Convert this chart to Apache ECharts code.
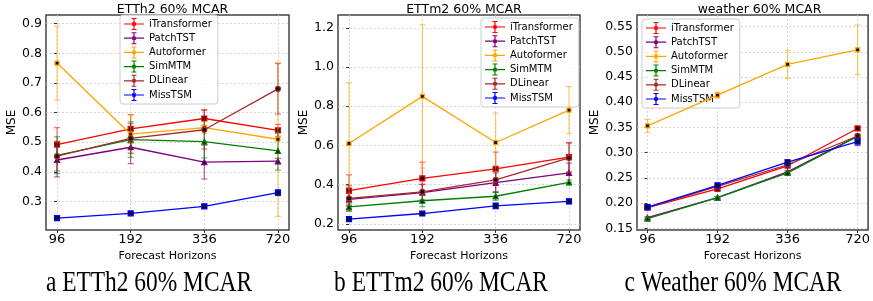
<!DOCTYPE html>
<html>
<head>
<meta charset="utf-8">
<script src="https://cdn.jsdelivr.net/npm/echarts@6/dist/echarts.min.js"></script>
<style>
  html, body { margin: 0; padding: 0; background: #fff; }
  #chart { width: 873px; height: 301px; }
</style>
</head>
<body>
<div id="chart"></div>
<script>
// categories
const horizons = ['96', '192', '336', '720']
const models = ['iTransformer', 'PatchTST', 'Autoformer', 'SimMTM', 'DLinear', 'MissTSM']
const colors = ['#ff0000', '#800080', '#ffa500', '#008000', '#a52a2a', '#0000ff']
const symbols = ['rect', 'triangle', 'rect', 'triangle', 'circle', 'rect']

// ETTh2 60% MCAR (mean, std) one row per model
const etth2Mse = [
  [0.492, 0.545, 0.580, 0.540],
  [0.440, 0.483, 0.433, 0.436],
  [0.767, 0.527, 0.549, 0.510],
  [0.456, 0.509, 0.502, 0.471],
  [0.453, 0.513, 0.542, 0.680],
  [0.244, 0.260, 0.284, 0.330]
]
const etth2Std = [
  [0.057, 0.048, 0.030, 0.020],
  [0.057, 0.055, 0.057, 0.010],
  [0.125, 0.065, 0.020, 0.260],
  [0.062, 0.060, 0.055, 0.065],
  [0.050, 0.050, 0.065, 0.085],
  [0.003, 0.003, 0.006, 0.010]
]

// ETTm2 60% MCAR
const ettm2Mse = [
  [0.370, 0.432, 0.481, 0.540],
  [0.325, 0.360, 0.410, 0.460],
  [0.610, 0.850, 0.615, 0.780],
  [0.287, 0.318, 0.341, 0.412],
  [0.330, 0.363, 0.425, 0.537],
  [0.224, 0.253, 0.292, 0.315]
]
const ettm2Std = [
  [0.080, 0.083, 0.085, 0.075],
  [0.030, 0.040, 0.050, 0.050],
  [0.310, 0.365, 0.150, 0.120],
  [0.020, 0.030, 0.020, 0.012],
  [0.065, 0.040, 0.060, 0.075],
  [0.005, 0.008, 0.015, 0.012]
]

// weather 60% MCAR
const weatherMse = [
  [0.191, 0.228, 0.274, 0.348],
  [0.171, 0.211, 0.262, 0.333],
  [0.353, 0.414, 0.475, 0.504],
  [0.169, 0.211, 0.260, 0.332],
  [0.191, 0.233, 0.276, 0.333],
  [0.192, 0.235, 0.281, 0.322]
]
const weatherStd = [
  [0.003, 0.003, 0.003, 0.003],
  [0.002, 0.002, 0.002, 0.002],
  [0.013, 0.006, 0.028, 0.049],
  [0.002, 0.002, 0.003, 0.003],
  [0.002, 0.003, 0.004, 0.004],
  [0.002, 0.005, 0.005, 0.008]
]

// y ticks per panel
const etth2Ticks = [0.3, 0.4, 0.5, 0.6, 0.7, 0.8, 0.9]
const ettm2Ticks = [0.2, 0.4, 0.6, 0.8, 1.0, 1.2]
const weatherTicks = [0.15, 0.2, 0.25, 0.3, 0.35, 0.4, 0.45, 0.5, 0.55]

const panels = [
  { title: 'ETTh2 60% MCAR', caption: 'a ETTh2 60% MCAR', mse: etth2Mse, std: etth2Std, ticks: etth2Ticks,
    ymin: 0.204, ymax: 0.929, digits: 1, left: 46, width: 243, capX: 149, legend: { left: 120, top: 15 } },
  { title: 'ETTm2 60% MCAR', caption: 'b ETTm2 60% MCAR', mse: ettm2Mse, std: ettm2Std, ticks: ettm2Ticks,
    ymin: 0.169, ymax: 1.265, digits: 1, left: 338, width: 242, capX: 441, legend: { left: 481, top: 18 } },
  { title: 'weather 60% MCAR', caption: 'c Weather 60% MCAR', mse: weatherMse, std: weatherStd, ticks: weatherTicks,
    ymin: 0.1466, ymax: 0.573, digits: 2, left: 637, width: 235, capX: 733, legend: { left: 642, top: 19 } }
]

const FONT = 'DejaVu Sans'
// errorbar-like legend glyph
const legendIcon = 'path://M0 5.4H20V6.6H0Z M9.4 0H10.6V12H9.4Z M7.5 0H12.5V1H7.5Z M7.5 11H12.5V12H7.5Z M8.2 4.2H11.8V7.8H8.2Z'

function renderErr(params, api) {
  const x = api.value(0)
  const lo = api.coord([x, api.value(1)])
  const hi = api.coord([x, api.value(2)])
  const cap = 3
  const style = { stroke: api.visual('color'), lineWidth: 1.2, opacity: 0.6 }
  return {
    type: 'group',
    children: [
      { type: 'line', shape: { x1: lo[0], y1: lo[1], x2: hi[0], y2: hi[1] }, style },
      { type: 'line', shape: { x1: lo[0] - cap, y1: lo[1], x2: lo[0] + cap, y2: lo[1] }, style },
      { type: 'line', shape: { x1: hi[0] - cap, y1: hi[1], x2: hi[0] + cap, y2: hi[1] }, style }
    ]
  }
}

const grid = [], xAxis = [], yAxis = [], series = [], title = [], legend = [], graphic = []

panels.forEach((p, k) => {
  grid.push({
    left: p.left, top: 15, width: p.width, height: 215,
    show: true, borderColor: '#444', borderWidth: 1.5, backgroundColor: 'transparent'
  })
  xAxis.push({
    gridIndex: k, type: 'value', min: -0.15, max: 3.15,
    name: 'Forecast Horizons', nameLocation: 'middle', nameGap: 16,
    nameTextStyle: { fontFamily: FONT, fontSize: 11, color: '#000' },
    axisLine: { show: false },
    axisTick: { show: true, length: 3, customValues: [0, 1, 2, 3], lineStyle: { color: '#333' } },
    axisLabel: {
      customValues: [0, 1, 2, 3], margin: 3,
      fontFamily: FONT, fontSize: 13, color: '#000',
      formatter: (v) => horizons[Math.round(v)]
    },
    splitLine: { show: true, lineStyle: { color: '#ccc', width: 0.8, type: [2, 2] } }
  })
  yAxis.push({
    gridIndex: k, type: 'value', min: p.ymin, max: p.ymax,
    name: 'MSE', nameLocation: 'middle', nameGap: k === 2 ? 31 : 26, nameRotate: 90,
    nameTextStyle: { fontFamily: FONT, fontSize: 12, color: '#000' },
    axisLine: { show: false },
    axisTick: { show: true, length: 3, customValues: p.ticks, lineStyle: { color: '#333' } },
    axisLabel: {
      customValues: p.ticks, margin: 4,
      fontFamily: FONT, fontSize: 12.5, color: '#000',
      formatter: (v) => v.toFixed(p.digits)
    },
    splitLine: { show: true, lineStyle: { color: '#ccc', width: 0.8, type: [2, 2] } }
  })
  title.push({
    text: p.title, left: p.left + p.width / 2, top: -2, textAlign: 'center',
    textStyle: { fontFamily: FONT, fontSize: 12.5, fontWeight: 'normal', color: '#000' }
  })
  legend.push({
    orient: 'vertical', left: p.legend.left, top: p.legend.top,
    itemWidth: 20, itemHeight: 12, itemGap: 2.2, padding: [3, 6, 3, 4],
    backgroundColor: 'rgba(255,255,255,0.85)', borderColor: '#ccc', borderWidth: 1, borderRadius: 3,
    textStyle: { fontFamily: FONT, fontSize: 10, color: '#000' },
    data: models.map((m, i) => ({
      name: m, icon: legendIcon,
      itemStyle: { color: colors[i], borderWidth: 0 },
      lineStyle: { width: 0 }
    }))
  })
  models.forEach((m, i) => {
    const mean = p.mse[i]
    const sd = p.std[i]
    series.push({
      name: m + ' err', type: 'custom', xAxisIndex: k, yAxisIndex: k,
      itemStyle: { color: colors[i] },
      renderItem: renderErr,
      encode: { x: 0, y: [1, 2] },
      data: mean.map((v, j) => [j, v - sd[j], v + sd[j]]),
      z: 2 + i
    })
    series.push({
      name: m, type: 'line', xAxisIndex: k, yAxisIndex: k,
      symbol: symbols[i], symbolSize: i === 2 ? 4 : 5,
      color: colors[i],
      lineStyle: { width: 1.3, color: colors[i] },
      itemStyle: { color: '#111', borderColor: colors[i], borderWidth: 1.2 },
      data: mean.map((v, j) => [j, v]),
      z: 3 + i
    })
  })
  graphic.push({
    type: 'text', x: p.capX, y: 298, scaleX: 0.78, originX: 0,
    style: {
      text: p.caption, font: '30px "Liberation Serif"', fill: '#000',
      textAlign: 'center', textVerticalAlign: 'bottom'
    }
  })
})

const chart = echarts.init(document.getElementById('chart'))
chart.setOption({
  animation: false,
  title, grid, xAxis, yAxis, legend, series, graphic
})
</script>
</body>
</html>
